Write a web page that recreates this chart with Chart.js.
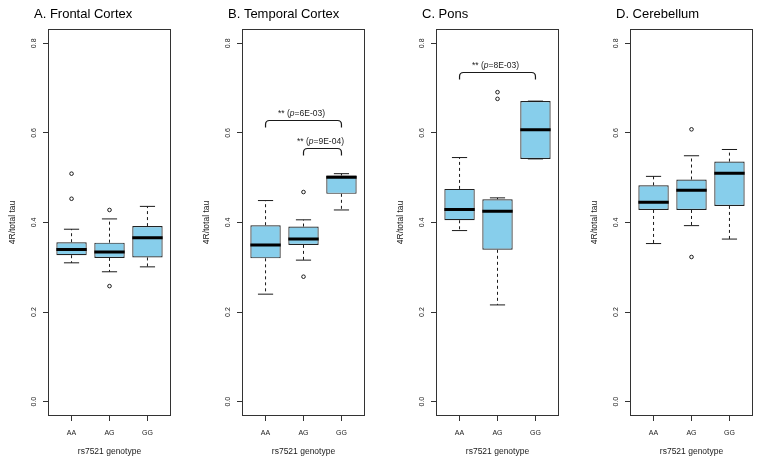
<!DOCTYPE html>
<html>
<head>
<meta charset="utf-8">
<script src="https://cdn.jsdelivr.net/npm/chart.js@4.4.1/dist/chart.umd.min.js"></script>
<style>
  body { margin: 0; background: #fff; }
  #wrap { position: relative; width: 762px; height: 465px; overflow: hidden; }
  #wrap canvas { position: absolute; top: 0; }
</style>
</head>
<body>
<div id="wrap">
  <canvas id="c0" width="194" height="465" style="left:0px"></canvas>
  <canvas id="c1" width="194" height="465" style="left:194px"></canvas>
  <canvas id="c2" width="194" height="465" style="left:388px"></canvas>
  <canvas id="c3" width="194" height="465" style="left:582px"></canvas>
</div>
<script>
// x categories + y ticks
const GENOTYPES = ["AA", "AG", "GG"];
const Y_TICKS = [0, 0.2, 0.4, 0.6, 0.8];
const PANEL_TITLES = ["A. Frontal Cortex", "B. Temporal Cortex", "C. Pons", "D. Cerebellum"];

// [lower whisker, Q1, median, Q3, upper whisker] per genotype
const frontalBox = [[0.310, 0.327, 0.340, 0.356, 0.385], [0.290, 0.321, 0.334, 0.355, 0.408], [0.301, 0.322, 0.366, 0.392, 0.436]];
const temporalBox = [[0.240, 0.320, 0.350, 0.394, 0.449], [0.316, 0.350, 0.363, 0.391, 0.406], [0.428, 0.464, 0.501, 0.505, 0.509]];
const ponsBox = [[0.382, 0.405, 0.429, 0.475, 0.545], [0.216, 0.339, 0.425, 0.452, 0.455], [0.542, 0.542, 0.607, 0.671, 0.671]];
const cerebellumBox = [[0.353, 0.428, 0.445, 0.483, 0.503], [0.393, 0.428, 0.472, 0.496, 0.549], [0.363, 0.437, 0.510, 0.536, 0.563]];

// outliers per genotype
const frontalOut = [[0.453, 0.509], [0.258, 0.428], []];
const temporalOut = [[], [0.279, 0.468], []];
const ponsOut = [[], [0.676, 0.691], []];
const cerebellumOut = [[], [0.323, 0.608], []];

// significance brackets: [from group, to group, bracket height, p value]
const frontalBrackets = [];
const temporalBrackets = [[1, 3, 0.628, "6E-03"], [2, 3, 0.566, "9E-04"]];
const ponsBrackets = [[1, 3, 0.737, "8E-03"]];
const cerebellumBrackets = [];

const FONT = "'Liberation Sans', Arial, Helvetica, sans-serif";
const BOX_FILL = "#87CEEB";
const INK = "#1a1a1a";

const panels = [
    { box: frontalBox, out: frontalOut, brackets: frontalBrackets },
    { box: temporalBox, out: temporalOut, brackets: temporalBrackets },
    { box: ponsBox, out: ponsOut, brackets: ponsBrackets },
    { box: cerebellumBox, out: cerebellumOut, brackets: cerebellumBrackets },
];

// title, plot frame, brackets
const decoPlugin = {
    id: "deco",
    afterDatasetsDraw(chart, args, opts) {
        const { ctx, chartArea: a, scales: { x, y } } = chart;
        ctx.save();
        ctx.strokeStyle = "#333";
        ctx.lineWidth = 1;
        ctx.strokeRect(a.left + 0.5, a.top + 0.5, a.right - a.left - 1, a.bottom - a.top - 1);

        ctx.fillStyle = "#000";
        ctx.font = "13px " + FONT;
        ctx.textAlign = "left";
        ctx.textBaseline = "middle";
        ctx.fillText(opts.title, a.left - 14, 14);

        opts.brackets.forEach(br => {
            const x1 = x.getPixelForValue(br[0]);
            const x2 = x.getPixelForValue(br[1]);
            const yt = Math.round(y.getPixelForValue(br[2])) + 0.5;
            const yl = yt + 7;
            const r = 4;
            ctx.strokeStyle = INK;
            ctx.lineWidth = 1.2;
            ctx.beginPath();
            ctx.moveTo(x1, yl);
            ctx.lineTo(x1, yt + r);
            ctx.quadraticCurveTo(x1, yt, x1 + r, yt);
            ctx.lineTo(x2 - r, yt);
            ctx.quadraticCurveTo(x2, yt, x2, yt + r);
            ctx.lineTo(x2, yl);
            ctx.stroke();

            // "** (p=...)" with italic p
            const parts = [["** (", "8.5px "], ["p", "italic 8.5px "], ["=" + br[3] + ")", "8.5px "]];
            let w = 0;
            parts.forEach(p => { ctx.font = p[1] + FONT; w += ctx.measureText(p[0]).width; });
            let tx = (x1 + x2) / 2 - w / 2 - 2;
            ctx.fillStyle = INK;
            ctx.textAlign = "left";
            ctx.textBaseline = "middle";
            parts.forEach(p => {
                ctx.font = p[1] + FONT;
                ctx.fillText(p[0], tx, yt - 7);
                tx += ctx.measureText(p[0]).width;
            });
        });
        ctx.restore();
    }
};

function makePanel(idx) {
    const { box, out, brackets } = panels[idx];

    const boxData = box.map((b, i) => ({ x: i + 1, y: [b[1], b[3]] }));
    const medData = [];
    const whiskData = [];
    const capData = [];
    const outData = [];
    box.forEach((b, i) => {
        const c = i + 1;
        medData.push({ x: c - 0.4, y: b[2] }, { x: c + 0.4, y: b[2] }, { x: c + 0.45, y: null });
        whiskData.push({ x: c, y: b[3] }, { x: c, y: b[4] }, { x: c, y: null },
                       { x: c, y: b[1] }, { x: c, y: b[0] }, { x: c, y: null });
        capData.push({ x: c - 0.2, y: b[4] }, { x: c + 0.2, y: b[4] }, { x: c + 0.2, y: null },
                     { x: c - 0.2, y: b[0] }, { x: c + 0.2, y: b[0] }, { x: c + 0.2, y: null });
        out[i].forEach(v => outData.push({ x: c, y: v }));
    });

    const lineBase = { type: "line", pointRadius: 0, fill: false, tension: 0, spanGaps: false, borderColor: INK };

    new Chart(document.getElementById("c" + idx), {
        type: "bar",
        data: {
            datasets: [
                {
                    data: boxData,
                    backgroundColor: BOX_FILL,
                    borderColor: "#222",
                    borderWidth: 1.2,
                    borderSkipped: false,
                    barPercentage: 0.8,
                    categoryPercentage: 1,
                    order: 4,
                },
                Object.assign({}, lineBase, { data: whiskData, borderWidth: 1, borderDash: [3, 3], order: 3 }),
                Object.assign({}, lineBase, { data: capData, borderWidth: 1, order: 2 }),
                Object.assign({}, lineBase, { data: medData, borderWidth: 3, borderColor: "#000", borderCapStyle: "butt", order: 1 }),
                {
                    type: "line",
                    data: outData,
                    showLine: false,
                    pointRadius: 1.8,
                    pointBorderWidth: 1,
                    pointBorderColor: INK,
                    pointBackgroundColor: "rgba(0,0,0,0)",
                    order: 0,
                },
            ],
        },
        options: {
            responsive: false,
            animation: false,
            devicePixelRatio: 1,
            layout: { padding: { top: 29, right: 23, left: 0, bottom: 0 } },
            plugins: {
                legend: { display: false },
                tooltip: { enabled: false },
                deco: { title: PANEL_TITLES[idx], brackets: brackets },
            },
            scales: {
                x: {
                    type: "linear",
                    min: 0.38,
                    max: 3.62,
                    offset: false,
                    afterBuildTicks: s => { s.ticks = GENOTYPES.map((g, i) => ({ value: i + 1 })); },
                    afterFit: s => { s.height = 49; },
                    grid: { display: true, drawOnChartArea: false, drawTicks: true, tickLength: 5, color: "#333", offset: false },
                    border: { display: false },
                    ticks: {
                        callback: v => GENOTYPES[v - 1],
                        autoSkip: false,
                        maxRotation: 0,
                        padding: 8,
                        color: INK,
                        font: { family: FONT, size: 7 },
                    },
                    title: {
                        display: true,
                        text: "rs7521 genotype",
                        color: INK,
                        font: { family: FONT, size: 8.5 },
                        padding: { top: 0, bottom: 8 },
                    },
                },
                y: {
                    min: -0.032,
                    max: 0.832,
                    afterBuildTicks: s => { s.ticks = Y_TICKS.map(v => ({ value: v })); },
                    afterFit: s => { s.width = 48; },
                    grid: { display: true, drawOnChartArea: false, drawTicks: true, tickLength: 5, color: "#333" },
                    border: { display: false },
                    ticks: {
                        callback: v => v.toFixed(1),
                        minRotation: 90,
                        maxRotation: 90,
                        crossAlign: "center",
                        padding: 4,
                        color: INK,
                        font: { family: FONT, size: 7 },
                    },
                    title: {
                        display: true,
                        text: "4R/total tau",
                        color: INK,
                        font: { family: FONT, size: 8.5 },
                        padding: { top: 8, bottom: 0 },
                    },
                },
            },
        },
        plugins: [decoPlugin],
    });
}

[0, 1, 2, 3].forEach(makePanel);
</script>
</body>
</html>
